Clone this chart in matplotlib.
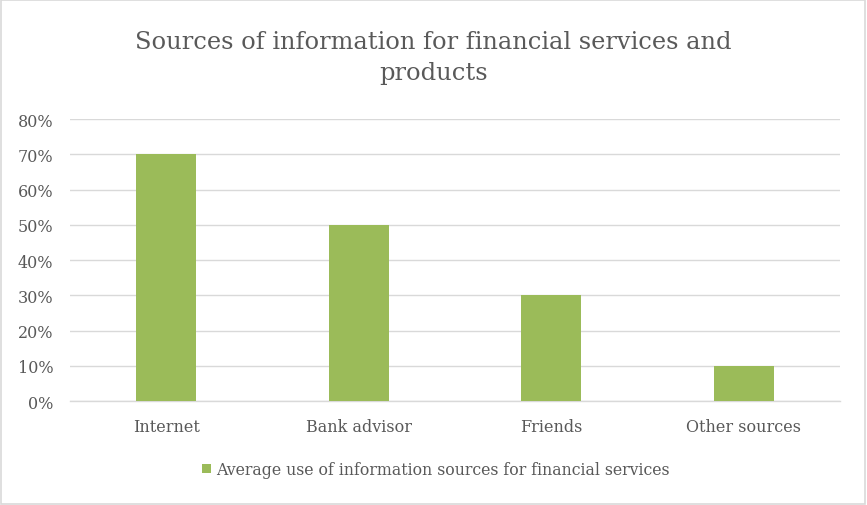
import matplotlib.pyplot as plt
from matplotlib.patches import Rectangle
from matplotlib.ticker import PercentFormatter

categories = ['Internet', 'Bank advisor', 'Friends', 'Other sources']
values = [0.70, 0.50, 0.30, 0.10]
series_name = 'Average use of information sources for financial services'
title = 'Sources of information for financial services and\nproducts'

plt.rcParams['font.family'] = ['DejaVu Serif']
text_col = '#595959'
grid_col = '#D9D9D9'
bar_col = '#9BBB59'

fig = plt.figure(figsize=(8.67, 5.06), dpi=100)
ax = fig.add_axes([0.0807, 0.2055, 0.8880, 0.5573])

x = range(len(categories))
ax.bar(x, values, width=0.3125, color=bar_col, zorder=3, label=series_name)

ax.set_xlim(-0.5, len(categories) - 0.5)
ax.set_ylim(0, 0.8)
ax.set_yticks([i / 10 for i in range(9)])
ax.yaxis.set_major_formatter(PercentFormatter(1.0, decimals=0))
ax.set_xticks(list(x))
ax.set_xticklabels(categories)
ax.tick_params(axis='both', length=0, colors=text_col, labelsize=11.5)
ax.tick_params(axis='x', pad=12)
ax.tick_params(axis='y', pad=12)
ax.grid(axis='y', color=grid_col, linewidth=1, zorder=0)
for s in ['top', 'right', 'left']:
    ax.spines[s].set_visible(False)
ax.spines['bottom'].set_color(grid_col)
ax.spines['bottom'].set_linewidth(1)

fig.text(0.5, 0.885, title, ha='center', va='center', fontsize=17.4,
         color=text_col, linespacing=1.45)

fig.legend(loc='center', bbox_to_anchor=(0.503, 0.07), frameon=False,
           fontsize=11.3, labelcolor=text_col, handlelength=0.55, handleheight=0.55,
           handletextpad=0.35)

fig.patches.append(Rectangle((0.001, 0.001), 0.997, 0.997, transform=fig.transFigure,
                             fill=False, edgecolor=grid_col, linewidth=1.2))

fig.savefig('out.png', dpi=100)
